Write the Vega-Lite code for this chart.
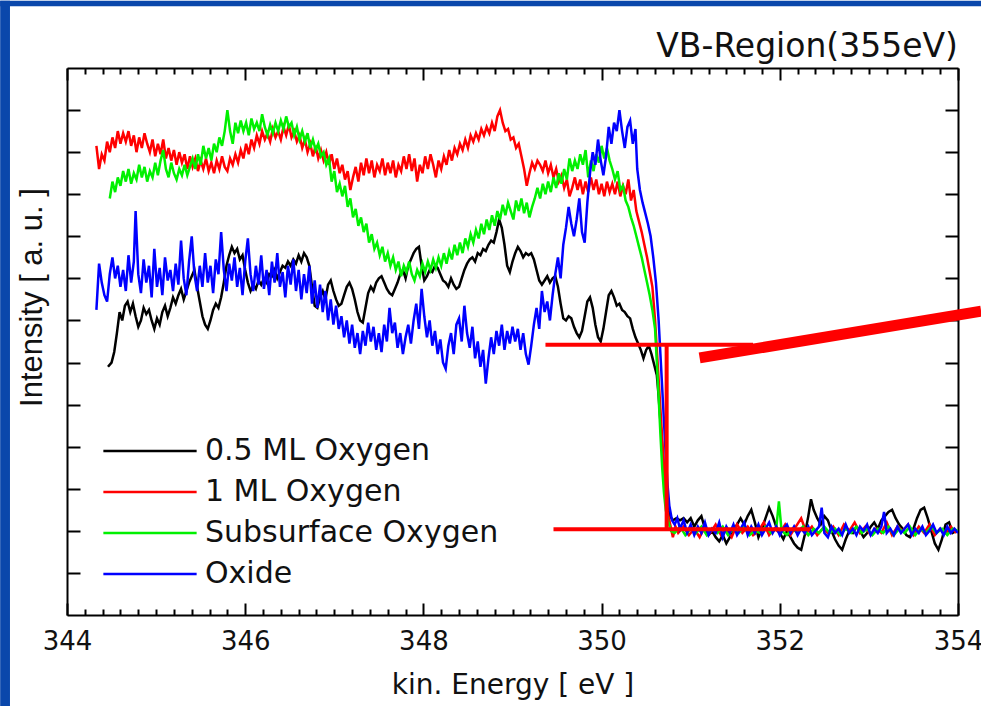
{
  "$schema": "https://vega.github.io/schema/vega-lite/v6.json",
  "autosize": {"type": "none"},
  "width": 891,
  "height": 547,
  "padding": {"left": 67, "top": 68, "right": 23, "bottom": 91},
  "background": "white",
  "config": {
    "view": {"stroke": null},
    "axis": {"grid": false, "domainColor": "black", "domainWidth": 2, "tickColor": "black", "tickWidth": 2}
  },
  "title": {"text": "VB-Region(355eV)", "anchor": "end", "frame": "group", "fontSize": 33, "font": "DejaVu Sans", "fontWeight": "normal", "color": "#111", "offset": 7, "dy": 70},
  "datasets": {
    "strips": [
      {"x": 343.25, "x2": 343.36, "y": -2.16, "y2": 14.6},
      {"x": 343.25, "x2": 354.26, "y": 14.47, "y2": 14.6}
    ],
    "ann": [
      {"x": 349.37, "x2": 351.70, "y": 6.42, "y2": 6.42},
      {"x": 349.46, "x2": 352.34, "y": 2.04, "y2": 2.04},
      {"x": 350.73, "x2": 350.73, "y": 6.42, "y2": 2.04}
    ],
    "thick": [
      {"x": 351.10, "x2": 354.26, "y": 6.11, "y2": 7.22}
    ],
    "lines": [
{"s":"a","x":344.46,"y":5.9},{"s":"a","x":344.50,"y":6.0},{"s":"a","x":344.53,"y":6.25},{"s":"a","x":344.56,"y":6.7},{"s":"a","x":344.59,"y":7.2},{"s":"a","x":344.62,"y":7.0},{"s":"a","x":344.65,"y":7.35},{"s":"a","x":344.68,"y":7.45},{"s":"a","x":344.71,"y":7.2},{"s":"a","x":344.74,"y":7.4},{"s":"a","x":344.77,"y":7.1},{"s":"a","x":344.80,"y":6.85},{"s":"a","x":344.83,"y":7.0},{"s":"a","x":344.86,"y":7.3},{"s":"a","x":344.89,"y":7.15},{"s":"a","x":344.92,"y":7.25},{"s":"a","x":344.95,"y":7.0},{"s":"a","x":344.98,"y":6.8},{"s":"a","x":345.01,"y":7.05},{"s":"a","x":345.04,"y":6.9},{"s":"a","x":345.07,"y":7.2},{"s":"a","x":345.10,"y":7.35},{"s":"a","x":345.13,"y":7.1},{"s":"a","x":345.16,"y":7.3},{"s":"a","x":345.19,"y":7.55},{"s":"a","x":345.22,"y":7.4},{"s":"a","x":345.25,"y":7.6},{"s":"a","x":345.28,"y":7.75},{"s":"a","x":345.31,"y":7.5},{"s":"a","x":345.34,"y":7.7},{"s":"a","x":345.37,"y":7.9},{"s":"a","x":345.40,"y":8.05},{"s":"a","x":345.43,"y":8.2},{"s":"a","x":345.46,"y":7.8},{"s":"a","x":345.49,"y":7.45},{"s":"a","x":345.52,"y":7.1},{"s":"a","x":345.55,"y":6.9},{"s":"a","x":345.58,"y":6.8},{"s":"a","x":345.61,"y":7.0},{"s":"a","x":345.64,"y":7.25},{"s":"a","x":345.67,"y":7.4},{"s":"a","x":345.70,"y":7.3},{"s":"a","x":345.73,"y":7.55},{"s":"a","x":345.76,"y":7.9},{"s":"a","x":345.79,"y":8.3},{"s":"a","x":345.82,"y":8.55},{"s":"a","x":345.85,"y":8.75},{"s":"a","x":345.88,"y":8.6},{"s":"a","x":345.91,"y":8.7},{"s":"a","x":345.94,"y":8.45},{"s":"a","x":345.97,"y":8.55},{"s":"a","x":346.00,"y":8.2},{"s":"a","x":346.03,"y":7.9},{"s":"a","x":346.06,"y":7.7},{"s":"a","x":346.09,"y":7.85},{"s":"a","x":346.12,"y":7.75},{"s":"a","x":346.15,"y":7.95},{"s":"a","x":346.18,"y":7.85},{"s":"a","x":346.21,"y":8.0},{"s":"a","x":346.24,"y":7.9},{"s":"a","x":346.27,"y":8.1},{"s":"a","x":346.30,"y":8.05},{"s":"a","x":346.33,"y":8.2},{"s":"a","x":346.36,"y":8.0},{"s":"a","x":346.39,"y":8.15},{"s":"a","x":346.42,"y":8.3},{"s":"a","x":346.45,"y":8.25},{"s":"a","x":346.48,"y":8.4},{"s":"a","x":346.51,"y":8.3},{"s":"a","x":346.54,"y":8.45},{"s":"a","x":346.57,"y":8.35},{"s":"a","x":346.60,"y":8.55},{"s":"a","x":346.63,"y":8.4},{"s":"a","x":346.66,"y":8.6},{"s":"a","x":346.69,"y":8.5},{"s":"a","x":346.72,"y":8.3},{"s":"a","x":346.75,"y":7.8},{"s":"a","x":346.78,"y":7.35},{"s":"a","x":346.81,"y":7.3},{"s":"a","x":346.84,"y":7.55},{"s":"a","x":346.87,"y":7.7},{"s":"a","x":346.90,"y":7.5},{"s":"a","x":346.93,"y":7.85},{"s":"a","x":346.96,"y":7.95},{"s":"a","x":346.99,"y":7.7},{"s":"a","x":347.02,"y":7.5},{"s":"a","x":347.05,"y":7.35},{"s":"a","x":347.08,"y":7.4},{"s":"a","x":347.11,"y":7.6},{"s":"a","x":347.14,"y":7.8},{"s":"a","x":347.17,"y":7.9},{"s":"a","x":347.20,"y":7.75},{"s":"a","x":347.23,"y":7.5},{"s":"a","x":347.26,"y":7.2},{"s":"a","x":347.29,"y":7.0},{"s":"a","x":347.32,"y":6.95},{"s":"a","x":347.35,"y":7.3},{"s":"a","x":347.38,"y":7.65},{"s":"a","x":347.41,"y":7.8},{"s":"a","x":347.44,"y":7.7},{"s":"a","x":347.47,"y":7.9},{"s":"a","x":347.50,"y":8.0},{"s":"a","x":347.53,"y":8.05},{"s":"a","x":347.56,"y":7.9},{"s":"a","x":347.59,"y":7.75},{"s":"a","x":347.62,"y":7.65},{"s":"a","x":347.65,"y":7.6},{"s":"a","x":347.68,"y":7.75},{"s":"a","x":347.71,"y":7.9},{"s":"a","x":347.74,"y":8.1},{"s":"a","x":347.77,"y":8.2},{"s":"a","x":347.80,"y":8.0},{"s":"a","x":347.83,"y":8.3},{"s":"a","x":347.86,"y":8.45},{"s":"a","x":347.89,"y":8.6},{"s":"a","x":347.92,"y":8.7},{"s":"a","x":347.95,"y":8.75},{"s":"a","x":347.98,"y":8.3},{"s":"a","x":348.01,"y":7.95},{"s":"a","x":348.04,"y":8.05},{"s":"a","x":348.07,"y":8.2},{"s":"a","x":348.10,"y":8.15},{"s":"a","x":348.13,"y":8.3},{"s":"a","x":348.16,"y":8.25},{"s":"a","x":348.19,"y":8.1},{"s":"a","x":348.22,"y":7.95},{"s":"a","x":348.25,"y":7.9},{"s":"a","x":348.28,"y":7.8},{"s":"a","x":348.31,"y":8.0},{"s":"a","x":348.34,"y":7.85},{"s":"a","x":348.37,"y":7.75},{"s":"a","x":348.40,"y":7.8},{"s":"a","x":348.43,"y":8.0},{"s":"a","x":348.46,"y":8.2},{"s":"a","x":348.49,"y":8.35},{"s":"a","x":348.52,"y":8.45},{"s":"a","x":348.55,"y":8.5},{"s":"a","x":348.58,"y":8.4},{"s":"a","x":348.61,"y":8.6},{"s":"a","x":348.64,"y":8.55},{"s":"a","x":348.67,"y":8.7},{"s":"a","x":348.70,"y":8.65},{"s":"a","x":348.73,"y":8.8},{"s":"a","x":348.76,"y":8.9},{"s":"a","x":348.79,"y":8.85},{"s":"a","x":348.82,"y":9.1},{"s":"a","x":348.85,"y":9.4},{"s":"a","x":348.88,"y":9.2},{"s":"a","x":348.91,"y":8.8},{"s":"a","x":348.94,"y":8.3},{"s":"a","x":348.97,"y":8.15},{"s":"a","x":349.00,"y":8.4},{"s":"a","x":349.03,"y":8.6},{"s":"a","x":349.06,"y":8.75},{"s":"a","x":349.09,"y":8.65},{"s":"a","x":349.12,"y":8.5},{"s":"a","x":349.15,"y":8.6},{"s":"a","x":349.18,"y":8.55},{"s":"a","x":349.21,"y":8.6},{"s":"a","x":349.24,"y":8.45},{"s":"a","x":349.27,"y":8.2},{"s":"a","x":349.30,"y":7.95},{"s":"a","x":349.33,"y":7.85},{"s":"a","x":349.36,"y":7.95},{"s":"a","x":349.39,"y":8.05},{"s":"a","x":349.42,"y":7.9},{"s":"a","x":349.45,"y":8.0},{"s":"a","x":349.48,"y":8.05},{"s":"a","x":349.51,"y":7.8},{"s":"a","x":349.54,"y":7.4},{"s":"a","x":349.57,"y":7.05},{"s":"a","x":349.60,"y":7.0},{"s":"a","x":349.63,"y":7.1},{"s":"a","x":349.66,"y":7.05},{"s":"a","x":349.69,"y":6.85},{"s":"a","x":349.72,"y":6.7},{"s":"a","x":349.75,"y":6.6},{"s":"a","x":349.78,"y":6.75},{"s":"a","x":349.81,"y":7.1},{"s":"a","x":349.84,"y":7.45},{"s":"a","x":349.87,"y":7.55},{"s":"a","x":349.90,"y":7.3},{"s":"a","x":349.93,"y":6.9},{"s":"a","x":349.96,"y":6.6},{"s":"a","x":349.99,"y":6.5},{"s":"a","x":350.02,"y":6.8},{"s":"a","x":350.05,"y":7.2},{"s":"a","x":350.08,"y":7.6},{"s":"a","x":350.11,"y":7.7},{"s":"a","x":350.14,"y":7.55},{"s":"a","x":350.17,"y":7.35},{"s":"a","x":350.20,"y":7.4},{"s":"a","x":350.23,"y":7.25},{"s":"a","x":350.26,"y":7.2},{"s":"a","x":350.29,"y":7.1},{"s":"a","x":350.32,"y":7.05},{"s":"a","x":350.35,"y":6.8},{"s":"a","x":350.38,"y":6.6},{"s":"a","x":350.41,"y":6.45},{"s":"a","x":350.44,"y":6.3},{"s":"a","x":350.47,"y":6.1},{"s":"a","x":350.50,"y":6.3},{"s":"a","x":350.53,"y":6.4},{"s":"a","x":350.56,"y":6.2},{"s":"a","x":350.59,"y":5.95},{"s":"a","x":350.62,"y":5.7},{"s":"a","x":350.64,"y":5.2},{"s":"a","x":350.66,"y":4.6},{"s":"a","x":350.68,"y":4.0},{"s":"a","x":350.70,"y":3.4},{"s":"a","x":350.72,"y":2.9},{"s":"a","x":350.74,"y":2.55},{"s":"a","x":350.77,"y":2.35},{"s":"a","x":350.80,"y":2.25},{"s":"a","x":350.84,"y":2.3},{"s":"a","x":350.88,"y":2.25},{"s":"a","x":350.92,"y":2.3},{"s":"a","x":350.96,"y":2.2},{"s":"a","x":351.00,"y":2.3},{"s":"a","x":351.04,"y":2.1},{"s":"a","x":351.08,"y":2.25},{"s":"a","x":351.12,"y":2.35},{"s":"a","x":351.16,"y":2.05},{"s":"a","x":351.20,"y":1.9},{"s":"a","x":351.24,"y":2.0},{"s":"a","x":351.28,"y":1.85},{"s":"a","x":351.32,"y":1.75},{"s":"a","x":351.36,"y":1.9},{"s":"a","x":351.40,"y":1.7},{"s":"a","x":351.44,"y":1.85},{"s":"a","x":351.48,"y":2.0},{"s":"a","x":351.52,"y":2.15},{"s":"a","x":351.56,"y":2.3},{"s":"a","x":351.60,"y":2.15},{"s":"a","x":351.64,"y":2.35},{"s":"a","x":351.68,"y":2.5},{"s":"a","x":351.72,"y":2.2},{"s":"a","x":351.76,"y":1.85},{"s":"a","x":351.80,"y":2.05},{"s":"a","x":351.84,"y":2.3},{"s":"a","x":351.88,"y":2.55},{"s":"a","x":351.92,"y":2.35},{"s":"a","x":351.96,"y":2.1},{"s":"a","x":352.00,"y":1.95},{"s":"a","x":352.04,"y":1.8},{"s":"a","x":352.08,"y":2.0},{"s":"a","x":352.12,"y":1.85},{"s":"a","x":352.16,"y":1.7},{"s":"a","x":352.20,"y":1.6},{"s":"a","x":352.24,"y":1.55},{"s":"a","x":352.28,"y":1.9},{"s":"a","x":352.32,"y":2.35},{"s":"a","x":352.35,"y":2.75},{"s":"a","x":352.38,"y":2.5},{"s":"a","x":352.42,"y":2.3},{"s":"a","x":352.46,"y":2.15},{"s":"a","x":352.50,"y":2.35},{"s":"a","x":352.54,"y":2.25},{"s":"a","x":352.58,"y":2.0},{"s":"a","x":352.62,"y":1.8},{"s":"a","x":352.66,"y":1.65},{"s":"a","x":352.70,"y":1.55},{"s":"a","x":352.74,"y":1.8},{"s":"a","x":352.78,"y":2.0},{"s":"a","x":352.82,"y":1.95},{"s":"a","x":352.86,"y":2.1},{"s":"a","x":352.90,"y":2.0},{"s":"a","x":352.94,"y":1.85},{"s":"a","x":352.98,"y":1.95},{"s":"a","x":353.02,"y":2.1},{"s":"a","x":353.06,"y":2.2},{"s":"a","x":353.10,"y":2.05},{"s":"a","x":353.14,"y":2.25},{"s":"a","x":353.18,"y":2.35},{"s":"a","x":353.22,"y":2.45},{"s":"a","x":353.26,"y":2.5},{"s":"a","x":353.30,"y":2.3},{"s":"a","x":353.34,"y":2.15},{"s":"a","x":353.38,"y":2.05},{"s":"a","x":353.42,"y":1.9},{"s":"a","x":353.46,"y":1.85},{"s":"a","x":353.50,"y":2.05},{"s":"a","x":353.54,"y":2.3},{"s":"a","x":353.58,"y":2.5},{"s":"a","x":353.62,"y":2.55},{"s":"a","x":353.66,"y":2.3},{"s":"a","x":353.70,"y":2.0},{"s":"a","x":353.74,"y":1.7},{"s":"a","x":353.78,"y":1.55},{"s":"a","x":353.82,"y":1.8},{"s":"a","x":353.86,"y":2.15},{"s":"a","x":353.90,"y":2.2},{"s":"a","x":353.94,"y":1.95},{"s":"a","x":353.98,"y":2.0},
{"s":"b","x":344.33,"y":11.15},{"s":"b","x":344.36,"y":10.6},{"s":"b","x":344.39,"y":10.95},{"s":"b","x":344.42,"y":10.8},{"s":"b","x":344.45,"y":11.25},{"s":"b","x":344.48,"y":11.0},{"s":"b","x":344.51,"y":11.35},{"s":"b","x":344.54,"y":11.1},{"s":"b","x":344.57,"y":11.5},{"s":"b","x":344.60,"y":11.2},{"s":"b","x":344.63,"y":11.45},{"s":"b","x":344.66,"y":11.25},{"s":"b","x":344.69,"y":11.5},{"s":"b","x":344.72,"y":11.15},{"s":"b","x":344.75,"y":11.4},{"s":"b","x":344.78,"y":11.0},{"s":"b","x":344.81,"y":11.35},{"s":"b","x":344.84,"y":11.1},{"s":"b","x":344.87,"y":11.45},{"s":"b","x":344.90,"y":11.2},{"s":"b","x":344.93,"y":11.0},{"s":"b","x":344.96,"y":11.3},{"s":"b","x":344.99,"y":10.9},{"s":"b","x":345.02,"y":11.2},{"s":"b","x":345.05,"y":10.95},{"s":"b","x":345.08,"y":11.3},{"s":"b","x":345.11,"y":10.85},{"s":"b","x":345.14,"y":11.1},{"s":"b","x":345.17,"y":10.8},{"s":"b","x":345.20,"y":11.05},{"s":"b","x":345.23,"y":10.7},{"s":"b","x":345.26,"y":11.0},{"s":"b","x":345.29,"y":10.75},{"s":"b","x":345.32,"y":10.95},{"s":"b","x":345.35,"y":10.6},{"s":"b","x":345.38,"y":10.9},{"s":"b","x":345.41,"y":10.65},{"s":"b","x":345.44,"y":10.85},{"s":"b","x":345.47,"y":10.55},{"s":"b","x":345.50,"y":10.8},{"s":"b","x":345.53,"y":10.6},{"s":"b","x":345.56,"y":10.85},{"s":"b","x":345.59,"y":10.55},{"s":"b","x":345.62,"y":10.75},{"s":"b","x":345.65,"y":10.5},{"s":"b","x":345.68,"y":10.8},{"s":"b","x":345.71,"y":10.6},{"s":"b","x":345.74,"y":10.9},{"s":"b","x":345.77,"y":10.65},{"s":"b","x":345.80,"y":10.55},{"s":"b","x":345.83,"y":10.85},{"s":"b","x":345.86,"y":10.7},{"s":"b","x":345.89,"y":10.95},{"s":"b","x":345.92,"y":10.75},{"s":"b","x":345.95,"y":11.05},{"s":"b","x":345.98,"y":10.85},{"s":"b","x":346.01,"y":11.2},{"s":"b","x":346.04,"y":10.95},{"s":"b","x":346.07,"y":11.3},{"s":"b","x":346.10,"y":11.1},{"s":"b","x":346.13,"y":11.4},{"s":"b","x":346.16,"y":11.2},{"s":"b","x":346.19,"y":11.5},{"s":"b","x":346.22,"y":11.3},{"s":"b","x":346.25,"y":11.45},{"s":"b","x":346.28,"y":11.25},{"s":"b","x":346.31,"y":11.55},{"s":"b","x":346.34,"y":11.35},{"s":"b","x":346.37,"y":11.5},{"s":"b","x":346.40,"y":11.3},{"s":"b","x":346.43,"y":11.6},{"s":"b","x":346.46,"y":11.4},{"s":"b","x":346.49,"y":11.65},{"s":"b","x":346.52,"y":11.35},{"s":"b","x":346.55,"y":11.5},{"s":"b","x":346.58,"y":11.25},{"s":"b","x":346.61,"y":11.4},{"s":"b","x":346.64,"y":11.1},{"s":"b","x":346.67,"y":11.3},{"s":"b","x":346.70,"y":11.0},{"s":"b","x":346.73,"y":11.2},{"s":"b","x":346.76,"y":10.9},{"s":"b","x":346.79,"y":11.15},{"s":"b","x":346.82,"y":10.85},{"s":"b","x":346.85,"y":11.05},{"s":"b","x":346.88,"y":10.8},{"s":"b","x":346.91,"y":11.0},{"s":"b","x":346.94,"y":10.7},{"s":"b","x":346.97,"y":10.95},{"s":"b","x":347.00,"y":10.6},{"s":"b","x":347.03,"y":10.85},{"s":"b","x":347.06,"y":10.5},{"s":"b","x":347.09,"y":10.7},{"s":"b","x":347.12,"y":10.35},{"s":"b","x":347.15,"y":10.55},{"s":"b","x":347.18,"y":10.1},{"s":"b","x":347.21,"y":10.4},{"s":"b","x":347.24,"y":10.65},{"s":"b","x":347.27,"y":10.3},{"s":"b","x":347.30,"y":10.75},{"s":"b","x":347.33,"y":10.45},{"s":"b","x":347.36,"y":10.85},{"s":"b","x":347.39,"y":10.5},{"s":"b","x":347.42,"y":10.8},{"s":"b","x":347.45,"y":10.4},{"s":"b","x":347.48,"y":10.7},{"s":"b","x":347.51,"y":10.55},{"s":"b","x":347.54,"y":10.85},{"s":"b","x":347.57,"y":10.45},{"s":"b","x":347.60,"y":10.75},{"s":"b","x":347.63,"y":10.5},{"s":"b","x":347.66,"y":10.8},{"s":"b","x":347.69,"y":10.4},{"s":"b","x":347.72,"y":10.7},{"s":"b","x":347.75,"y":10.55},{"s":"b","x":347.78,"y":10.9},{"s":"b","x":347.81,"y":10.6},{"s":"b","x":347.84,"y":10.95},{"s":"b","x":347.87,"y":10.55},{"s":"b","x":347.90,"y":10.85},{"s":"b","x":347.93,"y":10.3},{"s":"b","x":347.96,"y":10.7},{"s":"b","x":347.99,"y":10.5},{"s":"b","x":348.02,"y":10.9},{"s":"b","x":348.05,"y":10.6},{"s":"b","x":348.08,"y":10.95},{"s":"b","x":348.11,"y":10.7},{"s":"b","x":348.14,"y":10.4},{"s":"b","x":348.17,"y":10.8},{"s":"b","x":348.20,"y":10.6},{"s":"b","x":348.23,"y":10.9},{"s":"b","x":348.26,"y":10.7},{"s":"b","x":348.29,"y":11.05},{"s":"b","x":348.32,"y":10.8},{"s":"b","x":348.35,"y":11.1},{"s":"b","x":348.38,"y":10.95},{"s":"b","x":348.41,"y":11.2},{"s":"b","x":348.44,"y":11.05},{"s":"b","x":348.47,"y":11.3},{"s":"b","x":348.50,"y":11.1},{"s":"b","x":348.53,"y":11.4},{"s":"b","x":348.56,"y":11.25},{"s":"b","x":348.59,"y":11.45},{"s":"b","x":348.62,"y":11.3},{"s":"b","x":348.65,"y":11.55},{"s":"b","x":348.68,"y":11.4},{"s":"b","x":348.71,"y":11.6},{"s":"b","x":348.74,"y":11.45},{"s":"b","x":348.77,"y":11.7},{"s":"b","x":348.80,"y":11.5},{"s":"b","x":348.83,"y":11.85},{"s":"b","x":348.86,"y":12.0},{"s":"b","x":348.89,"y":11.7},{"s":"b","x":348.92,"y":11.5},{"s":"b","x":348.95,"y":11.55},{"s":"b","x":348.98,"y":11.3},{"s":"b","x":349.01,"y":11.35},{"s":"b","x":349.04,"y":11.1},{"s":"b","x":349.07,"y":11.2},{"s":"b","x":349.10,"y":10.9},{"s":"b","x":349.13,"y":10.6},{"s":"b","x":349.16,"y":10.2},{"s":"b","x":349.19,"y":10.5},{"s":"b","x":349.22,"y":10.75},{"s":"b","x":349.25,"y":10.6},{"s":"b","x":349.28,"y":10.8},{"s":"b","x":349.31,"y":10.7},{"s":"b","x":349.34,"y":10.55},{"s":"b","x":349.37,"y":10.8},{"s":"b","x":349.40,"y":10.5},{"s":"b","x":349.43,"y":10.7},{"s":"b","x":349.46,"y":10.4},{"s":"b","x":349.49,"y":10.6},{"s":"b","x":349.52,"y":10.3},{"s":"b","x":349.55,"y":10.45},{"s":"b","x":349.58,"y":10.15},{"s":"b","x":349.61,"y":10.35},{"s":"b","x":349.64,"y":9.95},{"s":"b","x":349.67,"y":10.15},{"s":"b","x":349.70,"y":10.4},{"s":"b","x":349.73,"y":10.1},{"s":"b","x":349.76,"y":10.35},{"s":"b","x":349.79,"y":10.0},{"s":"b","x":349.82,"y":10.3},{"s":"b","x":349.85,"y":10.05},{"s":"b","x":349.88,"y":10.4},{"s":"b","x":349.91,"y":10.1},{"s":"b","x":349.94,"y":10.35},{"s":"b","x":349.97,"y":10.0},{"s":"b","x":350.00,"y":10.25},{"s":"b","x":350.03,"y":9.95},{"s":"b","x":350.06,"y":10.3},{"s":"b","x":350.09,"y":10.05},{"s":"b","x":350.12,"y":10.25},{"s":"b","x":350.15,"y":10.0},{"s":"b","x":350.18,"y":10.3},{"s":"b","x":350.21,"y":9.95},{"s":"b","x":350.24,"y":10.2},{"s":"b","x":350.27,"y":10.0},{"s":"b","x":350.30,"y":10.35},{"s":"b","x":350.33,"y":9.85},{"s":"b","x":350.36,"y":10.1},{"s":"b","x":350.39,"y":9.6},{"s":"b","x":350.42,"y":9.35},{"s":"b","x":350.45,"y":9.1},{"s":"b","x":350.48,"y":8.8},{"s":"b","x":350.51,"y":8.5},{"s":"b","x":350.54,"y":8.15},{"s":"b","x":350.57,"y":7.8},{"s":"b","x":350.60,"y":7.0},{"s":"b","x":350.62,"y":6.3},{"s":"b","x":350.64,"y":5.6},{"s":"b","x":350.66,"y":4.9},{"s":"b","x":350.68,"y":4.2},{"s":"b","x":350.70,"y":3.5},{"s":"b","x":350.72,"y":2.9},{"s":"b","x":350.74,"y":2.45},{"s":"b","x":350.77,"y":2.15},{"s":"b","x":350.80,"y":1.85},{"s":"b","x":350.83,"y":2.1},{"s":"b","x":350.86,"y":1.95},{"s":"b","x":350.92,"y":2.1},{"s":"b","x":350.98,"y":1.9},{"s":"b","x":351.04,"y":2.05},{"s":"b","x":351.10,"y":1.85},{"s":"b","x":351.16,"y":2.1},{"s":"b","x":351.22,"y":1.95},{"s":"b","x":351.28,"y":2.15},{"s":"b","x":351.34,"y":1.9},{"s":"b","x":351.40,"y":2.05},{"s":"b","x":351.46,"y":1.85},{"s":"b","x":351.52,"y":2.15},{"s":"b","x":351.58,"y":1.95},{"s":"b","x":351.64,"y":2.1},{"s":"b","x":351.70,"y":1.9},{"s":"b","x":351.76,"y":2.0},{"s":"b","x":351.82,"y":2.2},{"s":"b","x":351.88,"y":1.9},{"s":"b","x":351.94,"y":2.05},{"s":"b","x":352.00,"y":1.95},{"s":"b","x":352.06,"y":2.15},{"s":"b","x":352.12,"y":1.9},{"s":"b","x":352.18,"y":2.1},{"s":"b","x":352.24,"y":2.3},{"s":"b","x":352.30,"y":1.95},{"s":"b","x":352.36,"y":2.1},{"s":"b","x":352.42,"y":1.9},{"s":"b","x":352.48,"y":2.05},{"s":"b","x":352.54,"y":1.95},{"s":"b","x":352.60,"y":2.1},{"s":"b","x":352.66,"y":1.9},{"s":"b","x":352.72,"y":2.15},{"s":"b","x":352.78,"y":2.0},{"s":"b","x":352.84,"y":2.2},{"s":"b","x":352.90,"y":1.95},{"s":"b","x":352.96,"y":2.1},{"s":"b","x":353.02,"y":1.9},{"s":"b","x":353.08,"y":2.05},{"s":"b","x":353.14,"y":1.95},{"s":"b","x":353.20,"y":2.2},{"s":"b","x":353.26,"y":1.9},{"s":"b","x":353.32,"y":2.1},{"s":"b","x":353.38,"y":2.0},{"s":"b","x":353.44,"y":2.15},{"s":"b","x":353.50,"y":1.9},{"s":"b","x":353.56,"y":2.1},{"s":"b","x":353.62,"y":1.95},{"s":"b","x":353.68,"y":2.15},{"s":"b","x":353.74,"y":1.9},{"s":"b","x":353.80,"y":2.05},{"s":"b","x":353.86,"y":1.95},{"s":"b","x":353.92,"y":2.1},{"s":"b","x":353.98,"y":1.95},
{"s":"c","x":344.48,"y":9.9},{"s":"c","x":344.51,"y":10.3},{"s":"c","x":344.54,"y":10.05},{"s":"c","x":344.57,"y":10.4},{"s":"c","x":344.60,"y":10.2},{"s":"c","x":344.63,"y":10.55},{"s":"c","x":344.66,"y":10.3},{"s":"c","x":344.69,"y":10.6},{"s":"c","x":344.72,"y":10.25},{"s":"c","x":344.75,"y":10.5},{"s":"c","x":344.78,"y":10.35},{"s":"c","x":344.81,"y":10.7},{"s":"c","x":344.84,"y":10.4},{"s":"c","x":344.87,"y":10.65},{"s":"c","x":344.90,"y":10.3},{"s":"c","x":344.93,"y":10.55},{"s":"c","x":344.96,"y":10.4},{"s":"c","x":344.99,"y":10.75},{"s":"c","x":345.02,"y":10.45},{"s":"c","x":345.05,"y":10.8},{"s":"c","x":345.08,"y":11.05},{"s":"c","x":345.11,"y":10.6},{"s":"c","x":345.14,"y":10.4},{"s":"c","x":345.17,"y":10.75},{"s":"c","x":345.20,"y":10.5},{"s":"c","x":345.23,"y":10.35},{"s":"c","x":345.26,"y":10.6},{"s":"c","x":345.29,"y":10.45},{"s":"c","x":345.32,"y":10.7},{"s":"c","x":345.35,"y":10.45},{"s":"c","x":345.38,"y":10.65},{"s":"c","x":345.41,"y":10.85},{"s":"c","x":345.44,"y":10.6},{"s":"c","x":345.47,"y":10.95},{"s":"c","x":345.50,"y":10.7},{"s":"c","x":345.53,"y":11.15},{"s":"c","x":345.56,"y":10.85},{"s":"c","x":345.59,"y":11.1},{"s":"c","x":345.62,"y":10.8},{"s":"c","x":345.65,"y":11.2},{"s":"c","x":345.68,"y":11.0},{"s":"c","x":345.71,"y":11.35},{"s":"c","x":345.74,"y":11.15},{"s":"c","x":345.77,"y":11.5},{"s":"c","x":345.80,"y":12.0},{"s":"c","x":345.83,"y":11.5},{"s":"c","x":345.86,"y":11.2},{"s":"c","x":345.89,"y":11.7},{"s":"c","x":345.92,"y":11.45},{"s":"c","x":345.95,"y":11.75},{"s":"c","x":345.98,"y":11.5},{"s":"c","x":346.01,"y":11.7},{"s":"c","x":346.04,"y":11.4},{"s":"c","x":346.07,"y":11.8},{"s":"c","x":346.10,"y":11.55},{"s":"c","x":346.13,"y":11.7},{"s":"c","x":346.16,"y":11.5},{"s":"c","x":346.19,"y":11.9},{"s":"c","x":346.22,"y":11.6},{"s":"c","x":346.25,"y":11.4},{"s":"c","x":346.28,"y":11.65},{"s":"c","x":346.31,"y":11.45},{"s":"c","x":346.34,"y":11.7},{"s":"c","x":346.37,"y":11.5},{"s":"c","x":346.40,"y":11.75},{"s":"c","x":346.43,"y":11.55},{"s":"c","x":346.46,"y":11.85},{"s":"c","x":346.49,"y":11.6},{"s":"c","x":346.52,"y":11.7},{"s":"c","x":346.55,"y":11.4},{"s":"c","x":346.58,"y":11.6},{"s":"c","x":346.61,"y":11.3},{"s":"c","x":346.64,"y":11.5},{"s":"c","x":346.67,"y":11.25},{"s":"c","x":346.70,"y":11.45},{"s":"c","x":346.73,"y":11.1},{"s":"c","x":346.76,"y":11.3},{"s":"c","x":346.79,"y":11.05},{"s":"c","x":346.82,"y":11.2},{"s":"c","x":346.85,"y":10.9},{"s":"c","x":346.88,"y":11.0},{"s":"c","x":346.91,"y":10.7},{"s":"c","x":346.94,"y":10.85},{"s":"c","x":346.97,"y":10.3},{"s":"c","x":347.00,"y":10.55},{"s":"c","x":347.03,"y":10.05},{"s":"c","x":347.06,"y":10.25},{"s":"c","x":347.09,"y":9.95},{"s":"c","x":347.12,"y":10.2},{"s":"c","x":347.15,"y":9.7},{"s":"c","x":347.18,"y":9.9},{"s":"c","x":347.21,"y":9.45},{"s":"c","x":347.24,"y":9.65},{"s":"c","x":347.27,"y":9.25},{"s":"c","x":347.30,"y":9.45},{"s":"c","x":347.33,"y":9.1},{"s":"c","x":347.36,"y":9.3},{"s":"c","x":347.39,"y":8.85},{"s":"c","x":347.42,"y":9.05},{"s":"c","x":347.45,"y":8.7},{"s":"c","x":347.48,"y":8.85},{"s":"c","x":347.51,"y":8.55},{"s":"c","x":347.54,"y":8.75},{"s":"c","x":347.57,"y":8.4},{"s":"c","x":347.60,"y":8.6},{"s":"c","x":347.63,"y":8.3},{"s":"c","x":347.66,"y":8.5},{"s":"c","x":347.69,"y":8.2},{"s":"c","x":347.72,"y":8.4},{"s":"c","x":347.75,"y":8.05},{"s":"c","x":347.78,"y":8.3},{"s":"c","x":347.81,"y":8.15},{"s":"c","x":347.84,"y":8.4},{"s":"c","x":347.87,"y":8.1},{"s":"c","x":347.90,"y":7.95},{"s":"c","x":347.93,"y":8.2},{"s":"c","x":347.96,"y":8.05},{"s":"c","x":347.99,"y":8.35},{"s":"c","x":348.02,"y":8.15},{"s":"c","x":348.05,"y":8.4},{"s":"c","x":348.08,"y":8.2},{"s":"c","x":348.11,"y":8.45},{"s":"c","x":348.14,"y":8.25},{"s":"c","x":348.17,"y":8.5},{"s":"c","x":348.20,"y":8.3},{"s":"c","x":348.23,"y":8.6},{"s":"c","x":348.26,"y":8.35},{"s":"c","x":348.29,"y":8.65},{"s":"c","x":348.32,"y":8.45},{"s":"c","x":348.35,"y":8.8},{"s":"c","x":348.38,"y":8.55},{"s":"c","x":348.41,"y":8.85},{"s":"c","x":348.44,"y":8.6},{"s":"c","x":348.47,"y":8.95},{"s":"c","x":348.50,"y":8.75},{"s":"c","x":348.53,"y":9.05},{"s":"c","x":348.56,"y":8.85},{"s":"c","x":348.59,"y":9.15},{"s":"c","x":348.62,"y":8.95},{"s":"c","x":348.65,"y":9.3},{"s":"c","x":348.68,"y":9.05},{"s":"c","x":348.71,"y":9.4},{"s":"c","x":348.74,"y":9.15},{"s":"c","x":348.77,"y":9.5},{"s":"c","x":348.80,"y":9.25},{"s":"c","x":348.83,"y":9.6},{"s":"c","x":348.86,"y":9.4},{"s":"c","x":348.89,"y":9.75},{"s":"c","x":348.92,"y":9.5},{"s":"c","x":348.95,"y":9.8},{"s":"c","x":348.98,"y":9.6},{"s":"c","x":349.01,"y":9.4},{"s":"c","x":349.04,"y":9.85},{"s":"c","x":349.07,"y":9.6},{"s":"c","x":349.10,"y":9.9},{"s":"c","x":349.13,"y":9.55},{"s":"c","x":349.16,"y":9.8},{"s":"c","x":349.19,"y":9.45},{"s":"c","x":349.22,"y":9.7},{"s":"c","x":349.25,"y":9.9},{"s":"c","x":349.28,"y":10.15},{"s":"c","x":349.31,"y":9.9},{"s":"c","x":349.34,"y":10.25},{"s":"c","x":349.37,"y":10.0},{"s":"c","x":349.40,"y":10.3},{"s":"c","x":349.43,"y":10.05},{"s":"c","x":349.46,"y":10.4},{"s":"c","x":349.49,"y":10.15},{"s":"c","x":349.52,"y":10.5},{"s":"c","x":349.55,"y":10.25},{"s":"c","x":349.58,"y":10.6},{"s":"c","x":349.61,"y":10.35},{"s":"c","x":349.64,"y":10.85},{"s":"c","x":349.67,"y":10.55},{"s":"c","x":349.70,"y":10.8},{"s":"c","x":349.73,"y":10.6},{"s":"c","x":349.76,"y":10.95},{"s":"c","x":349.79,"y":10.7},{"s":"c","x":349.82,"y":11.05},{"s":"c","x":349.85,"y":10.4},{"s":"c","x":349.88,"y":10.8},{"s":"c","x":349.91,"y":10.55},{"s":"c","x":349.94,"y":10.95},{"s":"c","x":349.97,"y":10.75},{"s":"c","x":350.00,"y":11.15},{"s":"c","x":350.03,"y":10.85},{"s":"c","x":350.06,"y":11.1},{"s":"c","x":350.09,"y":10.8},{"s":"c","x":350.12,"y":10.6},{"s":"c","x":350.15,"y":10.35},{"s":"c","x":350.18,"y":10.55},{"s":"c","x":350.21,"y":10.1},{"s":"c","x":350.24,"y":10.2},{"s":"c","x":350.27,"y":9.85},{"s":"c","x":350.30,"y":9.7},{"s":"c","x":350.33,"y":9.45},{"s":"c","x":350.36,"y":9.25},{"s":"c","x":350.39,"y":9.0},{"s":"c","x":350.42,"y":8.75},{"s":"c","x":350.45,"y":8.5},{"s":"c","x":350.48,"y":8.2},{"s":"c","x":350.51,"y":7.9},{"s":"c","x":350.54,"y":7.6},{"s":"c","x":350.57,"y":7.25},{"s":"c","x":350.60,"y":6.8},{"s":"c","x":350.62,"y":6.0},{"s":"c","x":350.64,"y":5.2},{"s":"c","x":350.66,"y":4.3},{"s":"c","x":350.68,"y":3.5},{"s":"c","x":350.70,"y":2.9},{"s":"c","x":350.72,"y":2.5},{"s":"c","x":350.75,"y":2.2},{"s":"c","x":350.78,"y":2.0},{"s":"c","x":350.82,"y":1.95},{"s":"c","x":350.88,"y":2.1},{"s":"c","x":350.94,"y":1.9},{"s":"c","x":351.00,"y":2.05},{"s":"c","x":351.06,"y":1.95},{"s":"c","x":351.12,"y":2.1},{"s":"c","x":351.18,"y":1.9},{"s":"c","x":351.24,"y":2.05},{"s":"c","x":351.30,"y":1.95},{"s":"c","x":351.36,"y":2.1},{"s":"c","x":351.42,"y":1.9},{"s":"c","x":351.48,"y":2.05},{"s":"c","x":351.54,"y":1.95},{"s":"c","x":351.60,"y":2.1},{"s":"c","x":351.66,"y":1.9},{"s":"c","x":351.72,"y":2.0},{"s":"c","x":351.78,"y":1.95},{"s":"c","x":351.84,"y":2.1},{"s":"c","x":351.90,"y":1.95},{"s":"c","x":351.96,"y":2.05},{"s":"c","x":351.99,"y":2.7},{"s":"c","x":352.02,"y":2.0},{"s":"c","x":352.08,"y":1.9},{"s":"c","x":352.14,"y":2.05},{"s":"c","x":352.20,"y":1.95},{"s":"c","x":352.26,"y":2.1},{"s":"c","x":352.32,"y":1.9},{"s":"c","x":352.38,"y":2.05},{"s":"c","x":352.44,"y":1.95},{"s":"c","x":352.50,"y":2.1},{"s":"c","x":352.56,"y":1.95},{"s":"c","x":352.62,"y":2.05},{"s":"c","x":352.68,"y":1.9},{"s":"c","x":352.74,"y":2.05},{"s":"c","x":352.80,"y":1.95},{"s":"c","x":352.86,"y":2.1},{"s":"c","x":352.92,"y":1.95},{"s":"c","x":352.98,"y":2.05},{"s":"c","x":353.04,"y":1.9},{"s":"c","x":353.10,"y":2.05},{"s":"c","x":353.16,"y":1.95},{"s":"c","x":353.22,"y":2.1},{"s":"c","x":353.28,"y":1.9},{"s":"c","x":353.34,"y":2.05},{"s":"c","x":353.40,"y":1.95},{"s":"c","x":353.46,"y":2.1},{"s":"c","x":353.52,"y":1.9},{"s":"c","x":353.58,"y":2.05},{"s":"c","x":353.64,"y":1.95},{"s":"c","x":353.70,"y":2.1},{"s":"c","x":353.76,"y":1.95},{"s":"c","x":353.82,"y":2.05},{"s":"c","x":353.88,"y":1.9},{"s":"c","x":353.94,"y":2.05},{"s":"c","x":354.00,"y":2.0},
{"s":"d","x":344.33,"y":7.25},{"s":"d","x":344.36,"y":8.35},{"s":"d","x":344.39,"y":7.9},{"s":"d","x":344.42,"y":7.6},{"s":"d","x":344.45,"y":7.45},{"s":"d","x":344.48,"y":8.1},{"s":"d","x":344.51,"y":8.5},{"s":"d","x":344.54,"y":8.0},{"s":"d","x":344.57,"y":8.3},{"s":"d","x":344.60,"y":7.8},{"s":"d","x":344.63,"y":8.2},{"s":"d","x":344.66,"y":7.7},{"s":"d","x":344.69,"y":8.55},{"s":"d","x":344.72,"y":7.9},{"s":"d","x":344.75,"y":8.4},{"s":"d","x":344.77,"y":9.6},{"s":"d","x":344.80,"y":8.1},{"s":"d","x":344.83,"y":7.65},{"s":"d","x":344.86,"y":8.45},{"s":"d","x":344.89,"y":7.9},{"s":"d","x":344.92,"y":8.3},{"s":"d","x":344.95,"y":7.55},{"s":"d","x":344.98,"y":8.7},{"s":"d","x":345.01,"y":7.8},{"s":"d","x":345.04,"y":8.25},{"s":"d","x":345.07,"y":7.6},{"s":"d","x":345.10,"y":8.5},{"s":"d","x":345.13,"y":7.95},{"s":"d","x":345.16,"y":8.2},{"s":"d","x":345.19,"y":7.7},{"s":"d","x":345.22,"y":8.35},{"s":"d","x":345.25,"y":7.85},{"s":"d","x":345.28,"y":8.9},{"s":"d","x":345.31,"y":8.0},{"s":"d","x":345.34,"y":7.6},{"s":"d","x":345.37,"y":8.4},{"s":"d","x":345.40,"y":9.0},{"s":"d","x":345.43,"y":8.1},{"s":"d","x":345.46,"y":7.7},{"s":"d","x":345.49,"y":8.3},{"s":"d","x":345.52,"y":7.8},{"s":"d","x":345.55,"y":8.6},{"s":"d","x":345.58,"y":7.9},{"s":"d","x":345.61,"y":8.3},{"s":"d","x":345.64,"y":7.65},{"s":"d","x":345.67,"y":8.45},{"s":"d","x":345.70,"y":8.1},{"s":"d","x":345.73,"y":9.1},{"s":"d","x":345.76,"y":8.2},{"s":"d","x":345.79,"y":7.7},{"s":"d","x":345.82,"y":8.35},{"s":"d","x":345.85,"y":7.95},{"s":"d","x":345.88,"y":8.5},{"s":"d","x":345.91,"y":7.8},{"s":"d","x":345.94,"y":8.25},{"s":"d","x":345.97,"y":7.6},{"s":"d","x":346.00,"y":8.4},{"s":"d","x":346.03,"y":8.95},{"s":"d","x":346.06,"y":8.1},{"s":"d","x":346.09,"y":7.7},{"s":"d","x":346.12,"y":8.3},{"s":"d","x":346.15,"y":7.85},{"s":"d","x":346.18,"y":8.55},{"s":"d","x":346.21,"y":7.75},{"s":"d","x":346.24,"y":8.2},{"s":"d","x":346.27,"y":7.6},{"s":"d","x":346.30,"y":8.4},{"s":"d","x":346.33,"y":7.9},{"s":"d","x":346.36,"y":8.6},{"s":"d","x":346.39,"y":7.8},{"s":"d","x":346.42,"y":8.15},{"s":"d","x":346.45,"y":7.55},{"s":"d","x":346.48,"y":8.3},{"s":"d","x":346.51,"y":7.85},{"s":"d","x":346.54,"y":8.45},{"s":"d","x":346.57,"y":7.7},{"s":"d","x":346.60,"y":8.2},{"s":"d","x":346.63,"y":7.5},{"s":"d","x":346.66,"y":8.1},{"s":"d","x":346.69,"y":7.65},{"s":"d","x":346.72,"y":8.3},{"s":"d","x":346.75,"y":7.4},{"s":"d","x":346.78,"y":7.95},{"s":"d","x":346.81,"y":7.3},{"s":"d","x":346.84,"y":7.85},{"s":"d","x":346.87,"y":7.2},{"s":"d","x":346.90,"y":7.7},{"s":"d","x":346.93,"y":7.0},{"s":"d","x":346.96,"y":7.5},{"s":"d","x":346.99,"y":6.9},{"s":"d","x":347.02,"y":7.35},{"s":"d","x":347.05,"y":6.8},{"s":"d","x":347.08,"y":7.1},{"s":"d","x":347.11,"y":6.6},{"s":"d","x":347.14,"y":7.0},{"s":"d","x":347.17,"y":6.45},{"s":"d","x":347.20,"y":6.9},{"s":"d","x":347.23,"y":6.35},{"s":"d","x":347.26,"y":6.7},{"s":"d","x":347.29,"y":6.2},{"s":"d","x":347.32,"y":6.75},{"s":"d","x":347.35,"y":6.4},{"s":"d","x":347.38,"y":6.95},{"s":"d","x":347.41,"y":6.5},{"s":"d","x":347.44,"y":6.85},{"s":"d","x":347.47,"y":6.3},{"s":"d","x":347.50,"y":6.7},{"s":"d","x":347.53,"y":6.25},{"s":"d","x":347.56,"y":6.9},{"s":"d","x":347.59,"y":6.5},{"s":"d","x":347.62,"y":7.3},{"s":"d","x":347.65,"y":6.7},{"s":"d","x":347.68,"y":6.95},{"s":"d","x":347.71,"y":6.35},{"s":"d","x":347.74,"y":6.7},{"s":"d","x":347.77,"y":6.2},{"s":"d","x":347.80,"y":6.6},{"s":"d","x":347.83,"y":6.9},{"s":"d","x":347.86,"y":6.45},{"s":"d","x":347.89,"y":7.0},{"s":"d","x":347.92,"y":7.4},{"s":"d","x":347.95,"y":6.8},{"s":"d","x":347.98,"y":7.75},{"s":"d","x":348.01,"y":7.1},{"s":"d","x":348.04,"y":6.6},{"s":"d","x":348.07,"y":7.0},{"s":"d","x":348.10,"y":6.4},{"s":"d","x":348.13,"y":6.75},{"s":"d","x":348.16,"y":6.2},{"s":"d","x":348.19,"y":6.55},{"s":"d","x":348.22,"y":6.0},{"s":"d","x":348.25,"y":5.85},{"s":"d","x":348.28,"y":6.4},{"s":"d","x":348.31,"y":6.7},{"s":"d","x":348.34,"y":6.2},{"s":"d","x":348.37,"y":6.9},{"s":"d","x":348.40,"y":7.05},{"s":"d","x":348.43,"y":6.5},{"s":"d","x":348.46,"y":7.35},{"s":"d","x":348.49,"y":6.7},{"s":"d","x":348.52,"y":6.35},{"s":"d","x":348.55,"y":6.85},{"s":"d","x":348.58,"y":6.1},{"s":"d","x":348.61,"y":6.5},{"s":"d","x":348.64,"y":5.9},{"s":"d","x":348.67,"y":6.3},{"s":"d","x":348.70,"y":5.5},{"s":"d","x":348.73,"y":6.1},{"s":"d","x":348.76,"y":6.6},{"s":"d","x":348.79,"y":6.2},{"s":"d","x":348.82,"y":6.75},{"s":"d","x":348.85,"y":6.4},{"s":"d","x":348.88,"y":6.9},{"s":"d","x":348.91,"y":6.3},{"s":"d","x":348.94,"y":6.75},{"s":"d","x":348.97,"y":6.45},{"s":"d","x":349.00,"y":6.85},{"s":"d","x":349.03,"y":6.5},{"s":"d","x":349.06,"y":6.8},{"s":"d","x":349.09,"y":6.3},{"s":"d","x":349.12,"y":6.7},{"s":"d","x":349.15,"y":6.2},{"s":"d","x":349.18,"y":5.95},{"s":"d","x":349.21,"y":6.4},{"s":"d","x":349.24,"y":6.9},{"s":"d","x":349.27,"y":7.3},{"s":"d","x":349.30,"y":6.8},{"s":"d","x":349.33,"y":7.7},{"s":"d","x":349.36,"y":7.2},{"s":"d","x":349.39,"y":7.45},{"s":"d","x":349.42,"y":7.0},{"s":"d","x":349.45,"y":7.6},{"s":"d","x":349.48,"y":8.1},{"s":"d","x":349.51,"y":8.5},{"s":"d","x":349.54,"y":8.0},{"s":"d","x":349.57,"y":8.8},{"s":"d","x":349.60,"y":9.2},{"s":"d","x":349.63,"y":9.7},{"s":"d","x":349.66,"y":9.3},{"s":"d","x":349.69,"y":9.0},{"s":"d","x":349.72,"y":9.4},{"s":"d","x":349.75,"y":9.9},{"s":"d","x":349.78,"y":9.1},{"s":"d","x":349.81,"y":8.85},{"s":"d","x":349.84,"y":9.8},{"s":"d","x":349.87,"y":10.5},{"s":"d","x":349.90,"y":11.0},{"s":"d","x":349.93,"y":10.7},{"s":"d","x":349.96,"y":11.3},{"s":"d","x":349.99,"y":10.8},{"s":"d","x":350.02,"y":10.45},{"s":"d","x":350.05,"y":10.9},{"s":"d","x":350.08,"y":11.6},{"s":"d","x":350.11,"y":11.2},{"s":"d","x":350.14,"y":11.7},{"s":"d","x":350.17,"y":11.5},{"s":"d","x":350.20,"y":12.0},{"s":"d","x":350.23,"y":11.5},{"s":"d","x":350.26,"y":11.1},{"s":"d","x":350.29,"y":11.6},{"s":"d","x":350.32,"y":11.75},{"s":"d","x":350.35,"y":11.2},{"s":"d","x":350.38,"y":11.55},{"s":"d","x":350.40,"y":10.6},{"s":"d","x":350.43,"y":10.1},{"s":"d","x":350.46,"y":9.8},{"s":"d","x":350.49,"y":9.55},{"s":"d","x":350.52,"y":9.3},{"s":"d","x":350.55,"y":9.0},{"s":"d","x":350.58,"y":8.5},{"s":"d","x":350.61,"y":7.9},{"s":"d","x":350.64,"y":7.0},{"s":"d","x":350.66,"y":6.2},{"s":"d","x":350.68,"y":5.4},{"s":"d","x":350.70,"y":4.6},{"s":"d","x":350.72,"y":3.8},{"s":"d","x":350.74,"y":3.1},{"s":"d","x":350.76,"y":2.6},{"s":"d","x":350.79,"y":2.25},{"s":"d","x":350.82,"y":2.15},{"s":"d","x":350.85,"y":2.3},{"s":"d","x":350.88,"y":2.05},{"s":"d","x":350.92,"y":2.25},{"s":"d","x":350.96,"y":1.95},{"s":"d","x":351.00,"y":2.15},{"s":"d","x":351.04,"y":1.9},{"s":"d","x":351.08,"y":2.1},{"s":"d","x":351.12,"y":1.95},{"s":"d","x":351.16,"y":2.2},{"s":"d","x":351.20,"y":1.9},{"s":"d","x":351.24,"y":2.05},{"s":"d","x":351.28,"y":1.95},{"s":"d","x":351.32,"y":2.2},{"s":"d","x":351.36,"y":1.85},{"s":"d","x":351.40,"y":2.1},{"s":"d","x":351.44,"y":1.95},{"s":"d","x":351.48,"y":2.15},{"s":"d","x":351.52,"y":1.9},{"s":"d","x":351.56,"y":2.05},{"s":"d","x":351.60,"y":2.2},{"s":"d","x":351.64,"y":1.9},{"s":"d","x":351.68,"y":2.1},{"s":"d","x":351.72,"y":1.95},{"s":"d","x":351.76,"y":2.15},{"s":"d","x":351.80,"y":1.9},{"s":"d","x":351.84,"y":2.05},{"s":"d","x":351.88,"y":2.2},{"s":"d","x":351.92,"y":1.95},{"s":"d","x":351.96,"y":2.1},{"s":"d","x":352.00,"y":1.9},{"s":"d","x":352.04,"y":2.05},{"s":"d","x":352.08,"y":2.15},{"s":"d","x":352.12,"y":1.95},{"s":"d","x":352.16,"y":2.1},{"s":"d","x":352.20,"y":1.9},{"s":"d","x":352.24,"y":2.05},{"s":"d","x":352.28,"y":1.95},{"s":"d","x":352.32,"y":2.1},{"s":"d","x":352.36,"y":1.9},{"s":"d","x":352.40,"y":2.0},{"s":"d","x":352.44,"y":2.1},{"s":"d","x":352.47,"y":2.55},{"s":"d","x":352.50,"y":1.95},{"s":"d","x":352.54,"y":1.85},{"s":"d","x":352.58,"y":2.1},{"s":"d","x":352.62,"y":1.95},{"s":"d","x":352.66,"y":2.05},{"s":"d","x":352.70,"y":1.9},{"s":"d","x":352.74,"y":2.15},{"s":"d","x":352.78,"y":1.95},{"s":"d","x":352.82,"y":2.05},{"s":"d","x":352.86,"y":1.9},{"s":"d","x":352.90,"y":2.1},{"s":"d","x":352.94,"y":2.0},{"s":"d","x":352.98,"y":2.15},{"s":"d","x":353.02,"y":1.9},{"s":"d","x":353.06,"y":2.05},{"s":"d","x":353.10,"y":1.95},{"s":"d","x":353.14,"y":2.1},{"s":"d","x":353.17,"y":2.45},{"s":"d","x":353.20,"y":1.95},{"s":"d","x":353.24,"y":2.05},{"s":"d","x":353.28,"y":1.9},{"s":"d","x":353.32,"y":2.1},{"s":"d","x":353.36,"y":1.95},{"s":"d","x":353.40,"y":2.05},{"s":"d","x":353.44,"y":2.15},{"s":"d","x":353.48,"y":1.9},{"s":"d","x":353.52,"y":2.05},{"s":"d","x":353.56,"y":1.95},{"s":"d","x":353.60,"y":2.1},{"s":"d","x":353.64,"y":1.9},{"s":"d","x":353.68,"y":2.0},{"s":"d","x":353.72,"y":2.15},{"s":"d","x":353.76,"y":1.95},{"s":"d","x":353.80,"y":2.05},{"s":"d","x":353.84,"y":1.9},{"s":"d","x":353.88,"y":2.1},{"s":"d","x":353.92,"y":1.95},{"s":"d","x":353.96,"y":2.05},{"s":"d","x":354.00,"y":1.95}
    ]
  },
  "resolve": {"axis": {"x": "independent", "y": "independent"}},
  "layer": [
    {
      "data": {"name": "strips"},
      "mark": {"type": "rect", "clip": false, "color": "#0A47AB"},
      "encoding": {
        "x": {"field": "x", "type": "quantitative", "axis": null, "scale": {"domain": [344, 354], "nice": false, "zero": false}},
        "x2": {"field": "x2"},
        "y": {"field": "y", "type": "quantitative", "axis": null, "scale": {"domain": [0, 13], "nice": false, "zero": false}},
        "y2": {"field": "y2"}
      }
    },
    {
      "data": {"name": "lines"},
      "mark": {"type": "line", "strokeWidth": 2.5, "clip": true},
      "encoding": {
        "x": {
          "field": "x", "type": "quantitative",
          "scale": {"domain": [344, 354], "nice": false, "zero": false},
          "axis": {
            "orient": "bottom",
            "values": [344,344.2,344.4,344.6,344.8,345,345.2,345.4,345.6,345.8,346,346.2,346.4,346.6,346.8,347,347.2,347.4,347.6,347.8,348,348.2,348.4,348.6,348.8,349,349.2,349.4,349.6,349.8,350,350.2,350.4,350.6,350.8,351,351.2,351.4,351.6,351.8,352,352.2,352.4,352.6,352.8,353,353.2,353.4,353.6,353.8,354],
            "labelExpr": "abs(datum.value/2 - round(datum.value/2)) < 0.01 ? format(datum.value, 'd') : ''",
            "tickSize": {"condition": {"test": "abs(datum.value/2 - round(datum.value/2)) < 0.01", "value": -12}, "value": -6},
            "labelOverlap": false, "labelFlush": false, "labelBound": false,
            "labelFont": "DejaVu Sans", "labelFontSize": 26, "labelColor": "#111", "labelPadding": 25,
            "title": "kin. Energy [ eV ]", "titleFont": "DejaVu Sans", "titleFontSize": 28, "titleFontWeight": "normal", "titleColor": "#111",
            "titleY": 70, "titleBaseline": "middle"
          }
        },
        "y": {
          "field": "y", "type": "quantitative",
          "scale": {"domain": [0, 13], "nice": false, "zero": false},
          "axis": {
            "orient": "left",
            "values": [1,2,3,4,5,6,7,8,9,10,11,12],
            "labels": false, "tickSize": -13,
            "title": "Intensity [ a. u. ]", "titleFont": "Liberation Sans", "titleFontSize": 31, "titleFontWeight": "normal", "titleColor": "#111",
            "titleAngle": 270, "titleX": -35, "titleY": 229, "titleAlign": "center", "titleBaseline": "middle"
          }
        },
        "color": {
          "field": "s", "type": "nominal",
          "scale": {"domain": ["a", "b", "c", "d"], "range": ["#000000", "#FF0000", "#00F000", "#0000FF"]},
          "legend": {
            "orient": "none", "legendX": 68, "legendY": 368, "title": null, "padding": 0,
            "symbolType": "M-10,0L10,0", "symbolSize": 87, "symbolStrokeWidth": 2.5,
            "labelFont": "DejaVu Sans", "labelFontSize": 30, "labelColor": "#111", "labelOffset": 40, "labelLimit": 0, "rowPadding": 11,
            "labelExpr": "datum.label == 'a' ? '0.5 ML Oxygen' : datum.label == 'b' ? '1 ML Oxygen' : datum.label == 'c' ? 'Subsurface Oxygen' : 'Oxide'"
          }
        }
      }
    },
    {
      "data": {"name": "ann"},
      "mark": {"type": "rule", "color": "#FF0000", "strokeWidth": 4, "clip": false},
      "encoding": {
        "x": {
          "field": "x", "type": "quantitative",
          "scale": {"domain": [344, 354], "nice": false, "zero": false},
          "axis": {
            "orient": "top",
            "values": [344,344.2,344.4,344.6,344.8,345,345.2,345.4,345.6,345.8,346,346.2,346.4,346.6,346.8,347,347.2,347.4,347.6,347.8,348,348.2,348.4,348.6,348.8,349,349.2,349.4,349.6,349.8,350,350.2,350.4,350.6,350.8,351,351.2,351.4,351.6,351.8,352,352.2,352.4,352.6,352.8,353,353.2,353.4,353.6,353.8,354],
            "labels": false, "title": null,
            "tickSize": {"condition": {"test": "abs(datum.value/2 - round(datum.value/2)) < 0.01", "value": -12}, "value": -6}
          }
        },
        "x2": {"field": "x2"},
        "y": {
          "field": "y", "type": "quantitative",
          "scale": {"domain": [0, 13], "nice": false, "zero": false},
          "axis": {"orient": "right", "values": [1,2,3,4,5,6,7,8,9,10,11,12], "labels": false, "tickSize": -13, "title": null}
        },
        "y2": {"field": "y2"}
      }
    },
    {
      "data": {"name": "thick"},
      "mark": {"type": "rule", "color": "#FF0000", "strokeWidth": 11, "clip": false},
      "encoding": {
        "x": {"field": "x", "type": "quantitative", "axis": null, "scale": {"domain": [344, 354], "nice": false, "zero": false}},
        "x2": {"field": "x2"},
        "y": {"field": "y", "type": "quantitative", "axis": null, "scale": {"domain": [0, 13], "nice": false, "zero": false}},
        "y2": {"field": "y2"}
      }
    }
  ]
}
